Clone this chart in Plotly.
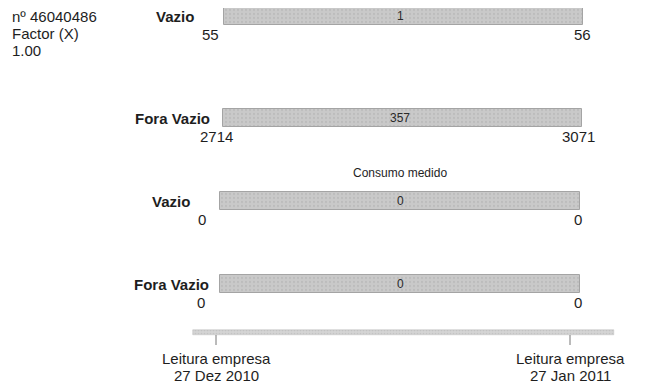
import plotly.graph_objects as go

# leituras do contador (kWh)
periodos = ["Vazio", "Fora Vazio", "Vazio", "Fora Vazio"]
leitura_inicial = [55, 2714, 0, 0]
leitura_final = [56, 3071, 0, 0]
consumo = [1, 357, 0, 0]

contador_info = ["nº 46040486", "Factor (X)", "1.00"]
tipo_leitura = ["Leitura empresa", "Leitura empresa"]
datas_leitura = ["27 Dez 2010", "27 Jan 2011"]

# posicoes na pagina (pixeis)
row_y = [16, 118, 201, 284]
bar_left = [224, 223, 220, 220]
bar_right = [583, 582, 580, 580]
label_right = [196, 212, 192, 211]
start_x = [210, 216, 202, 201]
end_x = [582, 578, 578, 578]
tick_x = [216, 570]

# a pagina tem 8px de margem no body
PAD = 8

font = "Liberation Sans, Arial, sans-serif"
ink = "#1e1e1e"

fig = go.Figure()

fig.add_trace(go.Bar(
    orientation="h",
    y=row_y,
    base=bar_left,
    x=[r - l for l, r in zip(bar_left, bar_right)],
    width=18,
    marker=dict(color="#c6c6c6",
                line=dict(color="#a4a4a4", width=1),
                pattern=dict(shape=".", fgcolor="#b0b0b0", bgcolor="#c9c9c9",
                             size=4, solidity=0.25)),
    hoverinfo="skip",
))

# linha do tempo
fig.add_trace(go.Bar(
    orientation="h",
    y=[332.5], base=[193], x=[614 - 193],
    width=5,
    marker=dict(color="#d0d0d0", line=dict(color="#bdbdbd", width=0.5),
                pattern=dict(shape=".", fgcolor="#b4b4b4", bgcolor="#d4d4d4",
                             size=3, solidity=0.25)),
    hoverinfo="skip",
))

for tx in tick_x:
    fig.add_shape(type="line", x0=tx, x1=tx, y0=335, y1=345,
                  line=dict(color="#777777", width=1))

ann = []
for i, p in enumerate(periodos):
    y = row_y[i]
    ann.append(dict(x=label_right[i], y=y, text=f"<b>{p}</b>", xanchor="right",
                    font=dict(size=15, color=ink)))
    ann.append(dict(x=400, y=y, text=str(consumo[i]), xanchor="center",
                    font=dict(size=12, color="#2a2a2a")))
    ann.append(dict(x=start_x[i], y=y + 18, text=str(leitura_inicial[i]),
                    xanchor="center", font=dict(size=15, color=ink)))
    ann.append(dict(x=end_x[i], y=y + 18, text=str(leitura_final[i]),
                    xanchor="center", font=dict(size=15, color=ink)))

ann.append(dict(x=400, y=173, text="Consumo medido", xanchor="center",
                font=dict(size=12, color=ink)))

for j, t in enumerate(contador_info):
    ann.append(dict(x=10, y=16 + j * 17, text=t, xanchor="left",
                    font=dict(size=15, color=ink)))

for tx, t, d in zip(tick_x, tipo_leitura, datas_leitura):
    ann.append(dict(x=tx, y=358, text=t, xanchor="center",
                    font=dict(size=15, color=ink)))
    ann.append(dict(x=tx, y=375, text=d, xanchor="center",
                    font=dict(size=15, color=ink)))

for a in ann:
    a.update(xref="x", yref="y", showarrow=False, yanchor="middle")

fig.update_layout(
    width=649 - PAD, height=387 - PAD,
    margin=dict(l=0, r=0, t=0, b=0),
    paper_bgcolor="white", plot_bgcolor="white",
    showlegend=False,
    font=dict(family=font),
    annotations=ann,
    bargap=0,
)
fig.update_xaxes(range=[PAD, 649], visible=False, fixedrange=True)
fig.update_yaxes(range=[387, PAD], visible=False, fixedrange=True)

fig.write_html("out.html")
